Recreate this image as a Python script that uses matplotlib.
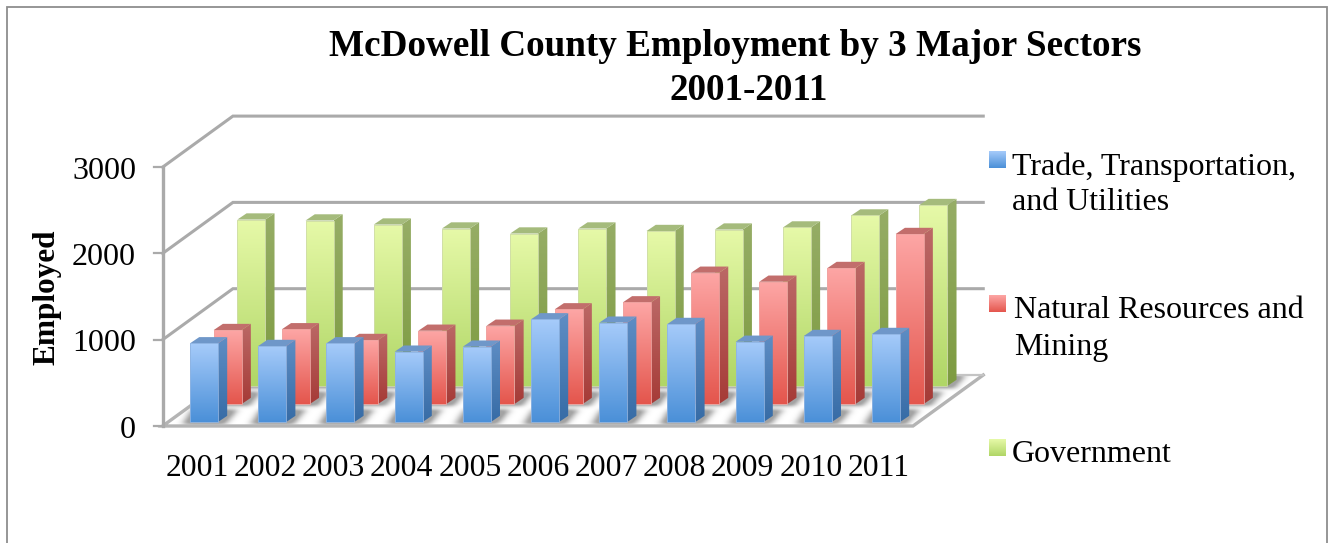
import numpy as np
import matplotlib
matplotlib.use("Agg")
import matplotlib.pyplot as plt
from matplotlib.colors import to_rgb
from matplotlib.patches import Polygon
from matplotlib.path import Path

plt.rcParams['font.family'] = ['Liberation Serif', 'DejaVu Serif']

years = ['2001', '2002', '2003', '2004', '2005', '2006', '2007', '2008', '2009', '2010', '2011']
trade = [912, 881, 912, 815, 873, 1190, 1151, 1136, 930, 997, 1020]
mining = [857, 866, 742, 849, 907, 1097, 1178, 1521, 1417, 1576, 1970]
government = [1929, 1918, 1871, 1825, 1767, 1825, 1796, 1813, 1837, 1976, 2097]
y_ticks = [0, 1000, 2000, 3000]

W, H = 1334, 543
CAT_PX = 68.2        # pixels per category
VAL_PX = 0.0863      # pixels per employee
X0_PX, Y0_PX = 204, 426

# oblique projection, in data units
ROW_DX, ROW_DY = 0.347, 208.6    # one depth row
BAR_W = 0.41
BAR_DX, BAR_DY = 0.135, 72
BACK_DX, BACK_DY = 1.03, 591     # whole floor depth
BASE = 46
LEFT, RIGHT = -0.606, 10.396

GRID = '#aaaaaa'

fig = plt.figure(figsize=(W / 100, H / 100), dpi=100)
ax = fig.add_axes([0, 0, 1, 1])


def px(x, y):
    return (x - X0_PX) / CAT_PX, (Y0_PX - y) / VAL_PX


def gradient(verts, top, bottom, z):
    verts = np.array(verts)
    c0, c1 = np.array(to_rgb(top)), np.array(to_rgb(bottom))
    t = np.linspace(0, 1, 64)[:, None, None]
    img = c0[None, None, :] * (1 - t) + c1[None, None, :] * t
    ext = (verts[:, 0].min(), verts[:, 0].max(), verts[:, 1].min(), verts[:, 1].max())
    im = ax.imshow(img, extent=ext, aspect='auto', zorder=z, interpolation='bilinear')
    clip = Polygon(verts, closed=True, transform=ax.transData)
    im.set_clip_path(clip)


def draw_bar(i, value, row, col, z):
    x = i + row * ROW_DX - BAR_W / 2
    y = BASE + row * ROW_DY
    r = x + BAR_W
    t = y + value
    gradient([(x, y), (r, y), (r, t), (x, t)], col['top'], col['bottom'], z)
    gradient([(r, y), (r + BAR_DX, y + BAR_DY), (r + BAR_DX, t + BAR_DY), (r, t)],
             col['side_top'], col['side_bottom'], z)
    ax.add_patch(Polygon([(x, t), (r, t), (r + BAR_DX, t + BAR_DY), (x + BAR_DX, t + BAR_DY)],
                         closed=True, fc=col['cap'], ec='none', zorder=z))
    ax.add_patch(Polygon([(x, y), (r, y), (r, t), (x, t)], closed=True, fc='none',
                         ec=col['edge'], lw=0.6, zorder=z + 0.1))


# floor
floor = [(LEFT, 0), (LEFT + BACK_DX, BACK_DY), (RIGHT + BACK_DX, BACK_DY), (RIGHT, 0)]
ax.add_patch(Polygon(floor, closed=True, fc='white', ec='none', zorder=1))

# soft halo round the bar feet
sx = np.linspace(LEFT, RIGHT + BACK_DX, 900)
sy = np.linspace(-20, BACK_DY, 60)
gx, gy = np.meshgrid(sx, sy[::-1])
pts = np.column_stack([gx.ravel(), gy.ravel()])
mask = np.zeros(gx.shape)
for i in range(len(years)):
    for row in range(3):
        x = i + row * ROW_DX - BAR_W / 2
        y = BASE + row * ROW_DY
        foot = Path([(x - 0.12, y - 25), (x + BAR_W + 0.1, y - 25),
                     (x + BAR_W + BAR_DX + 0.14, y + BAR_DY + 70),
                     (x + BAR_DX - 0.12, y + BAR_DY + 70)])
        mask += foot.contains_points(pts).reshape(gx.shape)
mask = np.clip(mask, 0, 1)
kx = np.exp(-0.5 * (np.arange(-12, 13) / 4.0) ** 2)
ky = np.exp(-0.5 * (np.arange(-6, 7) / 2.0) ** 2)
mask = np.apply_along_axis(lambda m: np.convolve(m, kx / kx.sum(), mode='same'), 1, mask)
mask = np.apply_along_axis(lambda m: np.convolve(m, ky / ky.sum(), mode='same'), 0, mask)
shadow = np.zeros(gx.shape + (4,))
shadow[..., :3] = 0.55
shadow[..., 3] = np.clip(mask, 0, 0.8)
im = ax.imshow(shadow, extent=(sx[0], sx[-1], sy[0], sy[-1]), aspect='auto', zorder=1.5,
               interpolation='bilinear')
im.set_clip_path(Polygon(floor, closed=True, transform=ax.transData))

# floor outline
ax.plot([RIGHT + BACK_DX, RIGHT, LEFT, LEFT + BACK_DX], [BACK_DY, 0, 0, BACK_DY],
        color='#b4b4b4', lw=2.4, zorder=2, solid_joinstyle='miter')
ax.plot([LEFT + BACK_DX, RIGHT + BACK_DX], [BACK_DY, BACK_DY], color='#c4c4c4', lw=1.6, zorder=2)

# walls and gridlines
ax.plot([LEFT, LEFT], [0, y_ticks[-1]], color=GRID, lw=2.4, zorder=2)
for v in y_ticks[1:]:
    ax.plot([LEFT, LEFT + BACK_DX, RIGHT + BACK_DX], [v, v + BACK_DY, v + BACK_DY],
            color=GRID, lw=2.2, zorder=2, solid_joinstyle='miter')
for v in y_ticks:
    ax.plot([LEFT - 0.13, LEFT], [v, v], color=GRID, lw=1.6, zorder=2)
    ax.text(*px(136, Y0_PX - v * VAL_PX + 4), str(v), ha='right', va='center', fontsize=23, color='black')

styles = [
    dict(top='#a6cbfa', bottom='#4b90d8', side_top='#5e8dc4', side_bottom='#376ca6',
         cap='#6f97c9', edge='#8fb4e2'),
    dict(top='#fda6a5', bottom='#e4564d', side_top='#bb6866', side_bottom='#a63b37',
         cap='#c26e6c', edge='#f0a5a2'),
    dict(top='#e6f9a8', bottom='#b0d666', side_top='#96ad66', side_bottom='#7d9b40',
         cap='#a5bb7c', edge='#cfdca8'),
]
series = [trade, mining, government]

# back row first so nearer bars paint over it
z = 3
for row in (2, 1, 0):
    for i, value in enumerate(series[row]):
        draw_bar(i, value, row, styles[row], z)
        z += 1

for i, year in enumerate(years):
    ax.text(i - 7 / CAT_PX, px(0, 468)[1], year, ha='center', va='center', fontsize=22.8, color='black')

ax.text(*px(735, 47), 'McDowell County Employment by 3 Major Sectors', ha='center', va='center',
        fontsize=26.7, fontweight='bold', color='black')
ax.text(*px(749, 90), '2001-2011', ha='center', va='center', fontsize=26.7, fontweight='bold', color='black')
ax.text(*px(47, 297), 'Employed', ha='center', va='center', rotation=90, fontsize=22.5,
        fontweight='bold', color='black')

# legend
legend_rows = [
    (151, 1012, 167, 'Trade, Transportation,', 203, 'and Utilities'),
    (295, 1014, 310, 'Natural Resources and', 347, 'Mining'),
    (439, 1012, 454, 'Government', None, None),
]
for (sw_y, tx, y1, s1, y2, s2), col in zip(legend_rows, styles):
    l, t = px(989, sw_y)
    r, b = px(1006, sw_y + 17)
    gradient([(l, b), (r, b), (r, t), (l, t)], col['top'], col['bottom'], 500)
    ax.text(*px(tx, y1), s1, ha='left', va='center', fontsize=23, color='black')
    if s2:
        ax.text(*px(tx, y2), s2, ha='left', va='center', fontsize=23, color='black')

# chart area border, open at the bottom
bx = [7, 7, 1327, 1327]
by = [543, 6.5, 6.5, 543]
fx, fy = zip(*[px(a, b) for a, b in zip(bx, by)])
ax.plot(fx, fy, color='#8e8e8e', lw=1.3, zorder=600, solid_joinstyle='miter')

ax.set_xlim(-X0_PX / CAT_PX, (W - X0_PX) / CAT_PX)
ax.set_ylim((Y0_PX - H) / VAL_PX, Y0_PX / VAL_PX)
ax.axis('off')

fig.savefig('out.png', dpi=100)
